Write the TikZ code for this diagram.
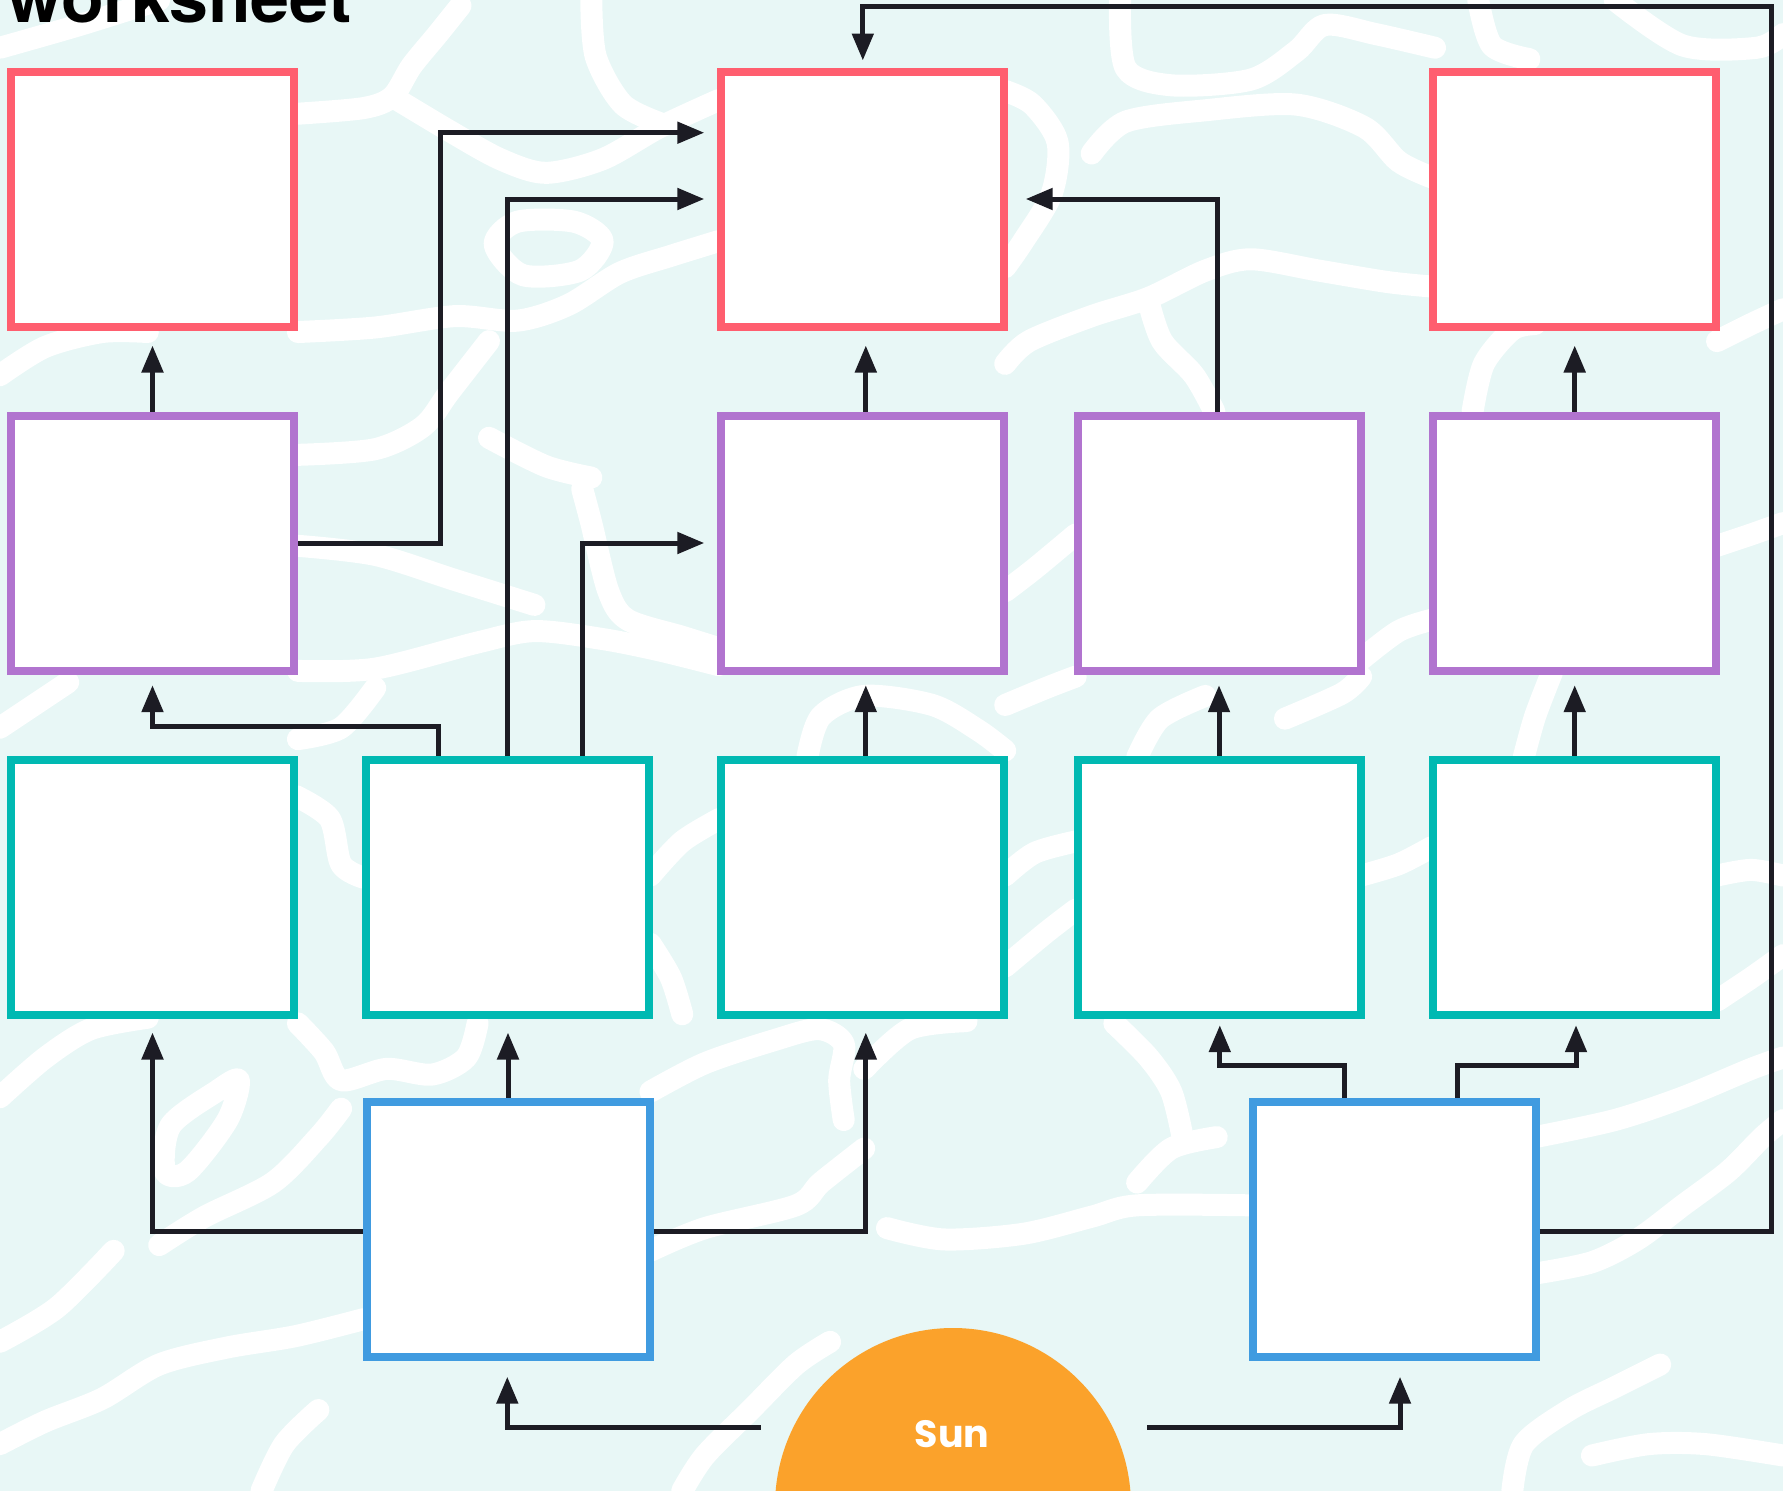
\documentclass[tikz,border=0pt]{standalone}
\usepackage{fontspec}
\usetikzlibrary{arrows.meta}
\newfontfamily\poppins{Poppins}
\newfontfamily\heros{TeX Gyre Heros}
\definecolor{mint}{HTML}{E8F7F6}
\definecolor{cred}{HTML}{FF5E6F}
\definecolor{cpurple}{HTML}{B174CF}
\definecolor{cteal}{HTML}{00B9B2}
\definecolor{cblue}{HTML}{409BE0}
\definecolor{corange}{HTML}{FBA22B}
\definecolor{cink}{HTML}{1C1C24}
\begin{document}
\begin{tikzpicture}[x=1pt,y=-1pt,
  box/.style={draw, line width=8pt, fill=white, minimum width=283pt, minimum height=255pt, inner sep=0pt},
  redbox/.style={box, draw=cred},
  purplebox/.style={box, draw=cpurple},
  tealbox/.style={box, draw=cteal},
  bluebox/.style={box, draw=cblue},
  conn/.style={draw=cink, line width=5pt, -{Triangle[length=27pt,width=21pt]}},
  wave/.style={draw=white, line width=22pt, line cap=round, line join=round}
]
\useasboundingbox (0,0) rectangle (1783,1491);
\clip (0,0) rectangle (1783,1491);
\fill[mint] (0,0) rectangle (1783,1491);
% background pattern (displayed coordinates)
\begin{scope}[scale=1.1371]
\draw[wave] plot[smooth] coordinates {(0,42) (70,22) (140,0)};
\draw[wave] plot[smooth] coordinates {(262,100) (320,95) (345,85) (362,58) (385,30) (405,5)};
\draw[wave] plot[smooth] coordinates {(345,85) (395,115) (440,140) (480,152) (530,140) (580,112) (632,88)};
\draw[wave] plot[smooth] coordinates {(520,0) (524,50) (548,92) (585,110)};
\draw[wave] plot[smooth cycle] coordinates {(435,215) (455,195) (505,195) (530,212) (510,238) (460,242)};
\draw[wave] plot[smooth] coordinates {(985,0) (990,60) (1030,75) (1100,70) (1140,45) (1165,22) (1210,30) (1262,42)};
\draw[wave] plot[smooth] coordinates {(1300,0) (1312,40) (1345,52)};
\draw[wave] plot[smooth] coordinates {(1420,0) (1480,40) (1545,42) (1568,30)};
\draw[wave] plot[smooth] coordinates {(884,80) (908,92) (930,125) (925,170) (900,212) (884,235)};
\draw[wave] plot[smooth] coordinates {(960,135) (990,107) (1060,97) (1140,92) (1200,112) (1230,142) (1259,156)};
\draw[wave] plot[smooth] coordinates {(0,330) (40,305) (90,292) (130,292)};
\draw[wave] plot[smooth] coordinates {(262,292) (330,288) (400,278) (455,282) (500,268) (545,240) (590,225) (632,212)};
\draw[wave] plot[smooth] coordinates {(262,400) (330,395) (372,375) (395,345) (430,300)};
\draw[wave] plot[smooth] coordinates {(884,320) (905,300) (960,278) (1010,262) (1060,238) (1100,228) (1160,238) (1220,248) (1259,252)};
\draw[wave] plot[smooth] coordinates {(1010,265) (1022,300) (1050,330) (1068,362)};
\draw[wave] plot[smooth] coordinates {(1295,362) (1305,320) (1330,290) (1350,285)};
\draw[wave] plot[smooth] coordinates {(1510,300) (1540,285) (1568,272)};
\draw[wave] plot[smooth] coordinates {(262,590) (330,588) (420,565) (470,555) (530,562) (580,572) (632,585)};
\draw[wave] plot[smooth] coordinates {(512,430) (520,460) (535,520) (552,545) (600,560) (632,570)};
\draw[wave] plot[smooth] coordinates {(262,480) (330,488) (400,510) (470,532)};
\draw[wave] plot[smooth] coordinates {(430,385) (480,410) (520,420)};
\draw[wave] plot[smooth] coordinates {(884,520) (910,500) (946,470)};
\draw[wave] plot[smooth] coordinates {(884,620) (920,605) (946,595)};
\draw[wave] plot[smooth] coordinates {(1197,580) (1230,555) (1259,545)};
\draw[wave] plot[smooth] coordinates {(1510,480) (1540,470) (1568,460)};
\draw[wave] plot[smooth] coordinates {(0,640) (30,620) (60,600)};
\draw[wave] plot[smooth] coordinates {(262,650) (300,640) (330,605)};
\draw[wave] plot[smooth] coordinates {(710,666) (722,630) (760,612) (820,620) (860,642) (884,660)};
\draw[wave] plot[smooth] coordinates {(1000,666) (1020,632) (1060,612)};
\draw[wave] plot[smooth] coordinates {(1130,632) (1180,610) (1197,595)};
\draw[wave] plot[smooth] coordinates {(1340,666) (1350,630) (1365,591)};
\draw[wave] plot[smooth] coordinates {(260,700) (290,720) (300,760) (320,772)};
\draw[wave] plot[smooth] coordinates {(572,770) (600,740) (633,720)};
\draw[wave] plot[smooth] coordinates {(572,830) (590,860) (600,892)};
\draw[wave] plot[smooth] coordinates {(884,770) (910,750) (946,740)};
\draw[wave] plot[smooth] coordinates {(884,850) (920,820) (946,800)};
\draw[wave] plot[smooth] coordinates {(1197,770) (1230,760) (1259,745)};
\draw[wave] plot[smooth] coordinates {(1510,770) (1540,765) (1568,770)};
\draw[wave] plot[smooth] coordinates {(1510,880) (1540,860) (1568,840)};
\draw[wave] plot[smooth] coordinates {(0,965) (40,930) (80,905) (130,895)};
\draw[wave] plot[smooth] coordinates {(262,900) (285,925) (300,950) (340,940) (380,945) (410,930) (420,900)};
\draw[wave] plot[smooth] coordinates {(572,960) (620,935) (680,915) (720,905) (742,918) (738,950) (742,985)};
\draw[wave] plot[smooth] coordinates {(760,940) (800,905) (850,898)};
\draw[wave] plot[smooth] coordinates {(980,900) (1010,930) (1030,960) (1040,1000)};
\draw[wave] plot[smooth] coordinates {(1350,1000) (1420,985) (1480,965) (1540,940) (1568,930)};
\draw[wave] plot[smooth] coordinates {(0,1270) (40,1250) (90,1230) (140,1200) (200,1185) (260,1175) (320,1160)};
\draw[wave] plot[smooth cycle] coordinates {(145,1030) (150,990) (190,960) (210,950) (200,985) (165,1030)};
\draw[wave] plot[smooth] coordinates {(140,1095) (180,1070) (240,1040) (280,1000) (300,975)};
\draw[wave] plot[smooth] coordinates {(0,1180) (50,1150) (100,1100)};
\draw[wave] plot[smooth] coordinates {(572,1100) (620,1080) (700,1060) (722,1040) (760,1010)};
\draw[wave] plot[smooth] coordinates {(600,1311) (620,1280) (660,1240) (700,1200) (730,1180)};
\draw[wave] plot[smooth] coordinates {(780,1080) (830,1090) (900,1085) (960,1070) (1000,1060) (1100,1060)};
\draw[wave] plot[smooth] coordinates {(1000,1040) (1030,1010) (1070,1000)};
\draw[wave] plot[smooth] coordinates {(1350,1120) (1400,1110) (1440,1090) (1480,1060) (1520,1030) (1550,1000) (1568,985)};
\draw[wave] plot[smooth] coordinates {(1330,1311) (1340,1270) (1380,1240) (1420,1220) (1460,1200)};
\draw[wave] plot[smooth] coordinates {(1400,1280) (1450,1270) (1500,1270) (1568,1280)};
\draw[wave] plot[smooth] coordinates {(230,1311) (250,1270) (280,1240)};
\end{scope}
% title
\node[anchor=base west, inner sep=0pt, font=\heros\bfseries\fontsize{70}{70}\selectfont] (title) at (7,23) {worksheet};
% boxes
\node[redbox] (r1) at (152.5,199) {};
\node[redbox] (r3) at (862.8,199) {};
\node[redbox] (r5) at (1574.7,199) {};
\node[purplebox] (p1) at (152.5,543) {};
\node[purplebox] (p3) at (862.8,543) {};
\node[purplebox] (p4) at (1219,543) {};
\node[purplebox] (p5) at (1574.7,543) {};
\node[tealbox] (t1) at (152.5,887) {};
\node[tealbox] (t2) at (507.2,887) {};
\node[tealbox] (t3) at (862.8,887) {};
\node[tealbox] (t4) at (1219,887) {};
\node[tealbox] (t5) at (1574.7,887) {};
\node[bluebox] (b1) at (508,1229.2) {};
\node[bluebox] (b2) at (1394,1229.2) {};
% sun
\node[circle, fill=corange, minimum size=356pt, inner sep=0pt] (sun) at (953,1506) {};
\node[text=white, inner sep=0pt, font=\poppins\bfseries\fontsize{38}{38}\selectfont] (sunlabel) at (952,1434) {Sun};
\coordinate (s1) at (760.7,1427.3);
\coordinate (s2) at (1147.3,1427.3);
\coordinate (loopR) at (1771,6);
% connectors
\draw[conn] (p1.north) -- ([yshift=-15pt]r1.south);
\draw[conn] ([xshift=3pt]p3.north) -- ([xshift=3pt,yshift=-15pt]r3.south);
\draw[conn] (p5.north) -- ([yshift=-15pt]r5.south);
\draw[conn] (p1.east) -- ++(142,0) |- ([xshift=-13pt,yshift=66.3pt]r3.west);
\draw[conn] (t2.north) |- ([xshift=-13pt]r3.west);
\draw[conn] ([xshift=-1.3pt]p4.north) |- ([xshift=17.4pt]r3.east);
\draw[conn] ([yshift=-2pt]b2.east) -| (loopR) -| ([yshift=7pt]r3.north);
\draw[conn] ([xshift=75pt]t2.north) |- ([xshift=-13pt]p3.west);
\draw[conn] ([xshift=-69pt]t2.north) -- ++(0,-29.4) -| ([yshift=-10.7pt]p1.south);
\draw[conn] ([xshift=3pt]t3.north) -- ([xshift=3pt,yshift=-10.7pt]p3.south);
\draw[conn] (t4.north) -- ([yshift=-10.7pt]p4.south);
\draw[conn] (t5.north) -- ([yshift=-10.7pt]p5.south);
\draw[conn] ([yshift=-2pt]b1.west) -| ([yshift=-14pt]t1.south);
\draw[conn] (b1.north) -- ([xshift=0.8pt,yshift=-14pt]t2.south);
\draw[conn] ([yshift=-2pt]b1.east) -| ([xshift=3pt,yshift=-14pt]t3.south);
\draw[conn] ([xshift=-50pt]b2.north) -- ++(0,-32) -| ([xshift=0.8pt,yshift=-6.7pt]t4.south);
\draw[conn] ([xshift=63pt]b2.north) -- ++(0,-32) -| ([xshift=1.3pt,yshift=-6.7pt]t5.south);
\draw[conn] (s1) -| ([xshift=-0.7pt,yshift=-16pt]b1.south);
\draw[conn] (s2) -| ([xshift=6pt,yshift=-16pt]b2.south);
\end{tikzpicture}
\end{document}
